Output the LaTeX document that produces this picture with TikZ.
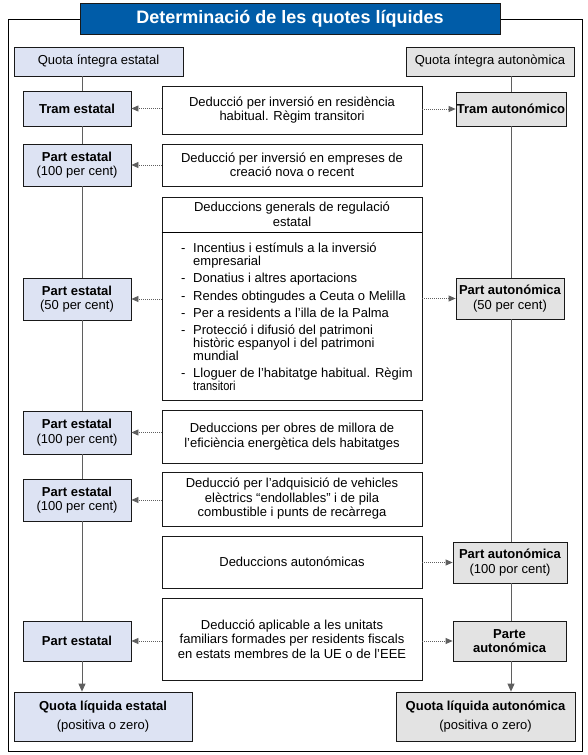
\documentclass[tikz,border=0pt]{standalone}
\usepackage{fontspec}
\usepackage{graphicx}
\setmainfont{Liberation Sans}
\usetikzlibrary{arrows.meta}
\definecolor{titleblue}{RGB}{0,92,168}
\definecolor{lblue}{RGB}{221,227,243}
\definecolor{lgray}{RGB}{227,227,227}
\definecolor{lnk}{RGB}{95,95,95}
\newcommand{\fsz}[2]{\fontsize{#1}{#2}\selectfont}
\newcommand{\dashitem}{\makebox[12pt][l]{-}}
\begin{document}
\begin{tikzpicture}[x=1pt,y=-1pt,
  box/.style={draw=black!90, line width=0.8pt, inner sep=0pt, align=center},
  lbox/.style={box, fill=lblue, font=\fsz{13}{14.5}},
  rbox/.style={box, fill=lgray, font=\fsz{13}{14.5}},
  mbox/.style={box, fill=white, font=\fsz{13}{14.5}},
  vline/.style={draw=lnk, line width=0.8pt},
  darr/.style={draw=lnk, line width=0.8pt, dash pattern=on 1pt off 1pt, -{Triangle[length=7pt,width=6pt,fill=lnk]}},
  sarr/.style={draw=lnk, line width=0.8pt, -{Triangle[length=8pt,width=7pt,fill=lnk]}}
]
\useasboundingbox (0,0) rectangle (588,755);
\draw[line width=0.8pt] (8,19) rectangle (582,751);
\node[box, fill=titleblue, text=white, font=\bfseries\fsz{18}{20}, minimum width=420pt, minimum height=31pt] (title) at (290,19) {Determinació de les quotes líquides};

% top boxes
\node[lbox, font=\fsz{13}{15}, minimum width=169pt, minimum height=29pt] (qie) at (98.5,61.5) {Quota íntegra estatal};
\node[rbox, font=\fsz{13}{15}, minimum width=168pt, minimum height=29pt] (qia) at (490,61.5) {Quota íntegra autonòmica};

% row 1
\node[lbox, font=\bfseries\fsz{13}{14.5}, minimum width=108pt, minimum height=35pt] (te) at (77,108.5) {Tram estatal};
\node[rbox, font=\bfseries\fsz{13}{14.5}, minimum width=110pt, minimum height=34pt] (ta) at (511,109) {Tram autonómico};
\node[mbox, minimum width=260pt, minimum height=48pt] (m1) at (292,110) {Deducció per inversió en residència\\habitual. Règim transitori};

% row 2
\node[lbox, minimum width=108pt, minimum height=42pt] (pe1) at (77,165) {{\bfseries Part estatal}\\(100 per cent)};
\node[mbox, minimum width=260pt, minimum height=42pt] (m2) at (292,165) {Deducció per inversió en empreses de\\creació nova o recent};

% row 3
\node[mbox, minimum width=260pt, minimum height=203pt] (m3) at (292,298.5) {};
\coordinate (dv) at (0,232);
\draw[line width=0.8pt] (m3.west |- dv) -- (m3.east |- dv);
\node[font=\fsz{13}{14.5}, align=center, inner sep=0pt] (m3h) at (292,214.5) {Deduccions generals de regulació\\estatal};
\node[font=\fsz{13}{13}, align=left, inner sep=0pt, anchor=north west] (m3l) at (181,243) {%
\dashitem Incentius i estímuls a la inversió\\
\hspace*{12pt}empresarial\\[4.2pt]
\dashitem Donatius i altres aportacions\\[4.2pt]
\dashitem Rendes obtingudes a Ceuta o Melilla\\[4.2pt]
\dashitem Per a residents a l'illa de la Palma\\[4.2pt]
\dashitem Protecció i difusió del patrimoni\\
\hspace*{12pt}històric espanyol i del patrimoni\\
\hspace*{12pt}mundial\\[4.2pt]
\dashitem Lloguer de l'habitatge habitual. Règim\\
\hspace*{12pt}\scalebox{0.85}[1]{transitori}};
\node[lbox, minimum width=108pt, minimum height=42pt] (pe50) at (77,299) {{\bfseries Part estatal}\\(50 per cent)};
\node[rbox, minimum width=108pt, minimum height=41pt] (pa50) at (510,298.5) {{\bfseries Part autonómica}\\(50 per cent)};

% row 4
\node[lbox, minimum width=108pt, minimum height=43pt] (pe100b) at (77,432.5) {{\bfseries Part estatal}\\(100 per cent)};
\node[mbox, minimum width=260pt, minimum height=53pt] (m4) at (292,436.5) {Deduccions per obres de millora de\\l'eficiència energètica dels habitatges};

% row 5
\node[lbox, minimum width=108pt, minimum height=42pt] (pe100c) at (77,500) {{\bfseries Part estatal}\\(100 per cent)};
\node[mbox, minimum width=260pt, minimum height=54pt] (m5) at (292,499) {Deducció per l'adquisició de vehicles\\elèctrics “endollables” i de pila\\combustible i punts de recàrrega};

% row 6
\node[mbox, minimum width=260pt, minimum height=52pt] (m6) at (292,562) {Deduccions autonómicas};
\node[rbox, minimum width=114pt, minimum height=41pt] (pa100) at (510,562.5) {{\bfseries Part autonómica}\\(100 por cent)};

% row 7
\node[mbox, minimum width=260pt, minimum height=82pt] (m7) at (292,639) {Deducció aplicable a les unitats\\familiars formades per residents fiscals\\en estats membres de la UE o de l'EEE};
\node[lbox, font=\bfseries\fsz{13}{14.5}, minimum width=108pt, minimum height=40pt] (pe) at (77,641) {Part estatal};
\node[rbox, font=\bfseries\fsz{13}{14.5}, minimum width=113pt, minimum height=40pt] (pa) at (509.5,641) {Parte\\autonómica};

% results
\node[lbox, font=\fsz{13}{19}, minimum width=178pt, minimum height=49pt] (qle) at (103,716.5) {{\bfseries Quota líquida estatal}\\(positiva o zero)};
\node[rbox, font=\fsz{13}{19}, minimum width=179pt, minimum height=49pt] (qla) at (485.5,716.5) {{\bfseries Quota líquida autonómica}\\(positiva o zero)};

% vertical flow lines
\coordinate (lx) at (82,0);
\coordinate (rx) at (511,0);
\draw[vline] (qie.south -| lx) -- (te.north -| lx);
\draw[vline] (te.south -| lx) -- (pe1.north -| lx);
\draw[vline] (pe1.south -| lx) -- (pe50.north -| lx);
\draw[vline] (pe50.south -| lx) -- (pe100b.north -| lx);
\draw[vline] (pe100b.south -| lx) -- (pe100c.north -| lx);
\draw[vline] (pe100c.south -| lx) -- (pe.north -| lx);
\draw[sarr] (pe.south -| lx) -- (qle.north -| lx);
\draw[vline] (qia.south -| rx) -- (ta.north -| rx);
\draw[vline] (ta.south -| rx) -- (pa50.north -| rx);
\draw[vline] (pa50.south -| rx) -- (pa100.north -| rx);
\draw[vline] (pa100.south -| rx) -- (pa.north -| rx);
\draw[sarr] (pa.south -| rx) -- (qla.north -| rx);

% dotted arrows
\draw[darr] (m1.west |- te.east) -- (te.east);
\draw[darr] (m1.east |- ta.west) -- (ta.west);
\draw[darr] (m2.west |- pe1.east) -- (pe1.east);
\draw[darr] (m3.west |- pe50.east) -- (pe50.east);
\draw[darr] (m3.east |- pa50.west) -- (pa50.west);
\draw[darr] (m4.west |- pe100b.east) -- (pe100b.east);
\draw[darr] (m5.west |- pe100c.east) -- (pe100c.east);
\draw[darr] (m6.east |- pa100.west) -- (pa100.west);
\draw[darr] (m7.west |- pe.east) -- (pe.east);
\draw[darr] (m7.east |- pa.west) -- (pa.west);
\end{tikzpicture}
\end{document}
